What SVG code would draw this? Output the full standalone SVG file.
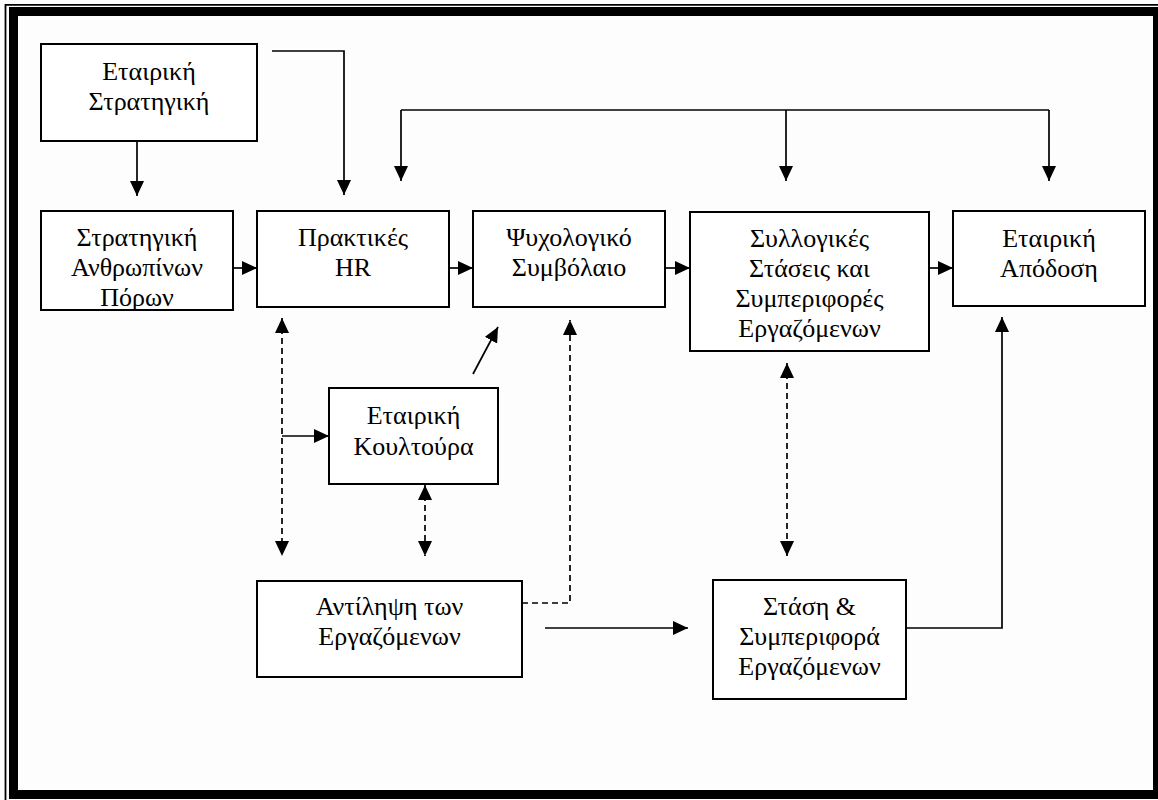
<svg xmlns="http://www.w3.org/2000/svg" width="1158" height="800" viewBox="0 0 1158 800">
<style>
.box{fill:#fff;stroke:#000;stroke-width:2}
.t{font-family:"Liberation Serif","Times New Roman",serif;font-size:26px;fill:#000;text-anchor:middle}
.ln{fill:none;stroke:#000;stroke-width:1.7}
.ar{fill:none;stroke:#000;stroke-width:1.7;marker-end:url(#ah)}
.da{fill:none;stroke:#000;stroke-width:1.7;stroke-dasharray:6 4;marker-end:url(#ah)}
.dd{fill:none;stroke:#000;stroke-width:1.7;stroke-dasharray:6 4;marker-start:url(#ah);marker-end:url(#ah)}
</style>
<defs>
<marker id="ah" markerUnits="userSpaceOnUse" markerWidth="16" markerHeight="16" refX="15" refY="7" orient="auto-start-reverse">
<path d="M0,0 L15,7 L0,14 z" fill="#000"/>
</marker>
</defs>
<rect x="0" y="0" width="1158" height="800" fill="#fdfdfd"/>
<g id="frame">
<path d="M5.5,800 V4.8 H1158" fill="none" stroke="#000" stroke-width="1.8"/>
<rect x="13.5" y="11.5" width="1144" height="783" fill="none" stroke="#000" stroke-width="9"/>
</g>
<g id="connectors">
<path class="ar" d="M137,124 V196"/>
<path class="ar" d="M272,51 H344 V195"/>
<path class="ln" d="M401,110 H1049"/>
<path class="ar" d="M401,110 V181"/>
<path class="ar" d="M786,110 V181"/>
<path class="ar" d="M1049,110 V181"/>
<path class="ar" d="M233,268 H257"/>
<path class="ar" d="M449,268 H473"/>
<path class="ar" d="M665,268 H690"/>
<path class="ar" d="M929,268 H953"/>
<path class="dd" d="M282,318 V556"/>
<path class="ar" d="M282,436 H329"/>
<path class="ar" d="M473,374 L498,327"/>
<path class="dd" d="M425,485 V556"/>
<path class="da" d="M522,603 H570 V320"/>
<path class="dd" d="M787,363 V556"/>
<path class="ar" d="M545,628 H688"/>
<path class="ar" d="M906,628 H1002 V317"/>
</g>
<g id="n1"><rect class="box" x="41" y="44" width="216" height="97"/>
<text class="t" x="149" y="80">Εταιρική</text><text class="t" x="149" y="110">Στρατηγική</text></g>
<g id="n2"><rect class="box" x="41" y="211" width="192" height="99"/>
<text class="t" x="137" y="246">Στρατηγική</text><text class="t" x="137" y="276">Ανθρωπίνων</text><text class="t" x="137" y="306">Πόρων</text></g>
<g id="n3"><rect class="box" x="257" y="211" width="192" height="96"/>
<text class="t" x="353" y="246">Πρακτικές</text><text class="t" x="353" y="276">HR</text></g>
<g id="n4"><rect class="box" x="473" y="211" width="192" height="96"/>
<text class="t" x="569" y="246">Ψυχολογικό</text><text class="t" x="569" y="276">Συμβόλαιο</text></g>
<g id="n5"><rect class="box" x="690" y="212" width="239" height="139"/>
<text class="t" x="809.5" y="247">Συλλογικές</text><text class="t" x="809.5" y="277">Στάσεις και</text><text class="t" x="809.5" y="307">Συμπεριφορές</text><text class="t" x="809.5" y="337">Εργαζόμενων</text></g>
<g id="n6"><rect class="box" x="953" y="211" width="192" height="95"/>
<text class="t" x="1049" y="247">Εταιρική</text><text class="t" x="1049" y="277">Απόδοση</text></g>
<g id="n7"><rect class="box" x="329" y="388" width="169" height="96"/>
<text class="t" x="413.5" y="424">Εταιρική</text><text class="t" x="413.5" y="455">Κουλτούρα</text></g>
<g id="n8"><rect class="box" x="257" y="581" width="265" height="96"/>
<text class="t" x="389.5" y="615">Αντίληψη των</text><text class="t" x="389.5" y="645">Εργαζόμενων</text></g>
<g id="n9"><rect class="box" x="713" y="580" width="193" height="119"/>
<text class="t" x="809.5" y="615">Στάση &amp;</text><text class="t" x="809.5" y="645">Συμπεριφορά</text><text class="t" x="809.5" y="675">Εργαζόμενων</text></g>
</svg>
